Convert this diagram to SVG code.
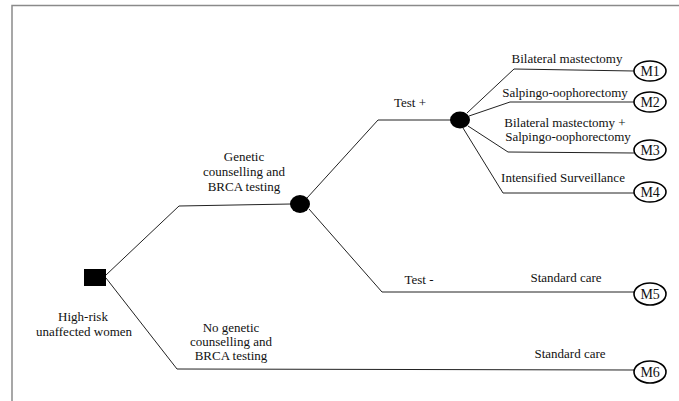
<svg xmlns="http://www.w3.org/2000/svg" width="679" height="401" viewBox="0 0 679 401">
<style>
text{font-family:"Liberation Serif","Times New Roman",serif;font-size:13px;fill:#111;text-anchor:middle}
.c{fill:none;stroke:#222;stroke-width:1}
.t{fill:#fff;stroke:#000;stroke-width:1.6}
.tl{font-size:14px;letter-spacing:-0.3px}
.ch{fill:#000}
</style>
<rect width="679" height="401" fill="#fff"/>
<g id="frame" fill="none" stroke="#8a8a8a" stroke-width="1.5">
<path d="M12 401 V5.5 H679"/>
</g>
<g id="connectors" class="c">
<polyline points="106,275 179,206 291,204"/>
<polyline points="106,278 177,369 634,370"/>
<polyline points="307,198 378,120 451,120"/>
<polyline points="309,209 382,292 634,292"/>
<polyline points="467,113 514,69 634,71"/>
<polyline points="469,116 510,102 634,102"/>
<polyline points="468,126 508,152 634,153"/>
<polyline points="463,128 503,193 634,193"/>
</g>
<g id="root"><rect x="84" y="269" width="22" height="17" fill="#000"/></g>
<g id="chance1"><ellipse class="ch" cx="300" cy="204" rx="10" ry="9"/></g>
<g id="chance2"><ellipse class="ch" cx="460" cy="120" rx="10" ry="8.5"/></g>
<g id="M1"><ellipse class="t" cx="650" cy="71" rx="16" ry="10"/><text class="tl" x="650" y="76">M1</text></g>
<g id="M2"><ellipse class="t" cx="650" cy="102" rx="16" ry="10"/><text class="tl" x="650" y="107">M2</text></g>
<g id="M3"><ellipse class="t" cx="650" cy="150" rx="16" ry="10"/><text class="tl" x="650" y="155">M3</text></g>
<g id="M4"><ellipse class="t" cx="650" cy="192" rx="16" ry="10"/><text class="tl" x="650" y="197">M4</text></g>
<g id="M5"><ellipse class="t" cx="650" cy="294" rx="16" ry="11"/><text class="tl" x="650" y="299">M5</text></g>
<g id="M6"><ellipse class="t" cx="650" cy="372" rx="16" ry="11"/><text class="tl" x="650" y="377">M6</text></g>
<g id="labels">
<text x="83" y="321">High-risk</text>
<text x="84" y="336">unaffected women</text>
<text x="244" y="161">Genetic</text>
<text x="244" y="176">counselling and</text>
<text x="244" y="191">BRCA testing</text>
<text x="231" y="332">No genetic</text>
<text x="231" y="346">counselling and</text>
<text x="231" y="360">BRCA testing</text>
<text x="410" y="107">Test +</text>
<text x="419" y="284">Test -</text>
<text x="567" y="63">Bilateral mastectomy</text>
<text x="565" y="97">Salpingo-oophorectomy</text>
<text x="565" y="127">Bilateral mastectomy +</text>
<text x="568" y="141">Salpingo-oophorectomy</text>
<text x="563" y="182">Intensified Surveillance</text>
<text x="566" y="282">Standard care</text>
<text x="570" y="358">Standard care</text>
</g>
</svg>
